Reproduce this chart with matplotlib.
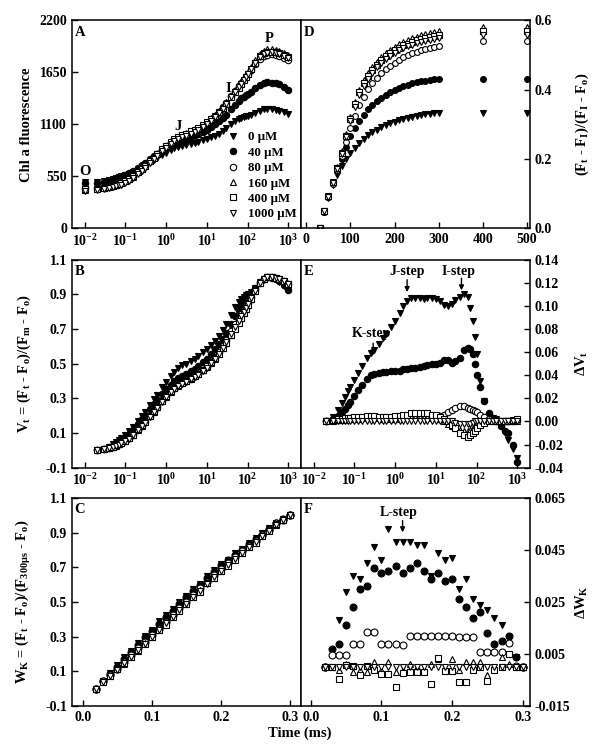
import matplotlib.pyplot as plt
from matplotlib.ticker import NullLocator

# ---- data ----
conc_labels = ['0 µM', '40 µM', '80 µM', '160 µM', '400 µM', '1000 µM']

# OJIP time points (ms)
time_ojip = [0.01, 0.02, 0.03, 0.04, 0.05, 0.06, 0.07, 0.08, 0.1, 0.12, 0.15, 0.2, 0.25, 0.3,
             0.4, 0.5, 0.6, 0.8, 1.0, 1.3, 1.6, 2.0, 2.5, 3.0, 4, 5, 6, 8, 10, 13, 16, 20, 25,
             30, 40, 50, 60, 70, 80, 90, 100, 120, 150, 200, 250, 300, 400, 500, 600, 800, 1000]

# A: Chl a fluorescence
chl_0 = [490, 495, 503, 512, 522, 531, 540, 549, 564, 579, 599, 627, 648, 666, 697, 721, 743, 775,
         799, 826, 845, 860, 873, 881, 893, 903, 913, 930, 945, 964, 981, 1002, 1029, 1057, 1098,
         1130, 1154, 1168, 1178, 1184, 1188, 1198, 1217, 1243, 1258, 1265, 1262, 1254, 1245, 1227, 1210]
chl_40 = [475, 480, 489, 498, 509, 519, 530, 541, 560, 580, 607, 643, 672, 694, 732, 762, 788, 827,
          855, 885, 906, 922, 938, 949, 967, 983, 997, 1021, 1042, 1072, 1101, 1131, 1165, 1201, 1258,
          1308, 1345, 1374, 1394, 1409, 1419, 1447, 1479, 1515, 1535, 1544, 1541, 1532, 1524, 1497, 1465]
chl_80 = [425, 430, 440, 448, 460, 470, 479, 491, 509, 529, 557, 598, 632, 660, 709, 747, 781, 832,
          869, 909, 936, 957, 977, 991, 1014, 1033, 1050, 1081, 1110, 1149, 1186, 1228, 1279, 1328, 1400,
          1456, 1502, 1540, 1572, 1602, 1628, 1676, 1733, 1793, 1824, 1837, 1840, 1834, 1826, 1805, 1785]
chl_160 = [410, 415, 424, 434, 445, 455, 467, 477, 496, 517, 548, 591, 627, 656, 708, 747, 782, 835,
           874, 917, 945, 969, 989, 1004, 1028, 1048, 1066, 1097, 1127, 1165, 1199, 1238, 1285, 1333, 1404,
           1461, 1510, 1553, 1590, 1624, 1655, 1711, 1777, 1845, 1879, 1892, 1895, 1889, 1880, 1858, 1836]
chl_400 = [415, 420, 430, 440, 450, 462, 472, 482, 503, 523, 552, 595, 630, 659, 709, 748, 782, 835,
           874, 914, 943, 965, 987, 1001, 1025, 1045, 1062, 1093, 1122, 1158, 1191, 1229, 1274, 1318, 1384,
           1439, 1486, 1528, 1565, 1600, 1632, 1689, 1753, 1819, 1853, 1867, 1870, 1864, 1856, 1835, 1815]
chl_1000 = [398, 405, 414, 422, 433, 443, 453, 463, 482, 502, 532, 574, 609, 638, 689, 728, 763, 815,
            853, 894, 921, 943, 964, 978, 1002, 1022, 1039, 1071, 1100, 1140, 1176, 1217, 1266, 1313, 1384,
            1442, 1490, 1531, 1567, 1601, 1630, 1682, 1744, 1809, 1842, 1857, 1860, 1854, 1845, 1824, 1802]

# B: relative variable fluorescence Vt (from 0.02 ms on)
vt_0 = [0.000, 0.010, 0.022, 0.035, 0.047, 0.059, 0.070, 0.089, 0.109, 0.135,
        0.171, 0.199, 0.222, 0.262, 0.294, 0.322, 0.364, 0.395, 0.430, 0.455,
        0.474, 0.491, 0.501, 0.517, 0.530, 0.543, 0.565, 0.584, 0.609, 0.631,
        0.658, 0.694, 0.730, 0.783, 0.825, 0.856, 0.874, 0.887, 0.895, 0.900,
        0.913, 0.938, 0.971, 0.991, 1.000, 0.996, 0.986, 0.974, 0.951, 0.928]
vt_40 = [0.000, 0.008, 0.017, 0.027, 0.037, 0.047, 0.057, 0.075, 0.094, 0.119,
         0.153, 0.180, 0.201, 0.237, 0.265, 0.289, 0.326, 0.352, 0.380, 0.400,
         0.415, 0.430, 0.440, 0.457, 0.472, 0.485, 0.508, 0.528, 0.556, 0.583,
         0.611, 0.643, 0.677, 0.730, 0.777, 0.812, 0.839, 0.858, 0.872, 0.882,
         0.908, 0.938, 0.972, 0.991, 0.999, 0.996, 0.988, 0.980, 0.955, 0.925]
vt_80 = [0.000, 0.007, 0.013, 0.021, 0.028, 0.035, 0.043, 0.056, 0.070, 0.090,
         0.119, 0.143, 0.163, 0.198, 0.225, 0.249, 0.285, 0.311, 0.340, 0.359,
         0.374, 0.388, 0.398, 0.414, 0.428, 0.440, 0.462, 0.482, 0.510, 0.536,
         0.566, 0.602, 0.637, 0.688, 0.728, 0.760, 0.787, 0.810, 0.831, 0.850,
         0.884, 0.924, 0.967, 0.989, 0.998, 1.000, 0.996, 0.990, 0.975, 0.961]
vt_160 = [0.000, 0.006, 0.013, 0.020, 0.027, 0.035, 0.042, 0.055, 0.069, 0.090,
          0.119, 0.143, 0.163, 0.198, 0.224, 0.248, 0.284, 0.310, 0.339, 0.358,
          0.374, 0.388, 0.398, 0.414, 0.428, 0.440, 0.461, 0.481, 0.507, 0.530,
          0.556, 0.588, 0.620, 0.668, 0.707, 0.740, 0.769, 0.794, 0.817, 0.838,
          0.876, 0.920, 0.966, 0.989, 0.998, 1.000, 0.996, 0.990, 0.975, 0.960]
vt_400 = [0.000, 0.007, 0.014, 0.021, 0.029, 0.036, 0.043, 0.057, 0.071, 0.091,
          0.121, 0.145, 0.165, 0.199, 0.226, 0.250, 0.286, 0.313, 0.341, 0.361,
          0.376, 0.391, 0.401, 0.417, 0.431, 0.443, 0.464, 0.484, 0.509, 0.532,
          0.558, 0.589, 0.619, 0.665, 0.703, 0.735, 0.764, 0.790, 0.814, 0.836,
          0.875, 0.919, 0.965, 0.988, 0.998, 1.000, 0.996, 0.990, 0.976, 0.962]
vt_1000 = [0.000, 0.006, 0.012, 0.019, 0.026, 0.033, 0.040, 0.053, 0.067, 0.087,
           0.116, 0.140, 0.160, 0.195, 0.222, 0.246, 0.282, 0.308, 0.336, 0.355,
           0.370, 0.384, 0.394, 0.410, 0.424, 0.436, 0.458, 0.478, 0.505, 0.530,
           0.558, 0.592, 0.624, 0.673, 0.713, 0.746, 0.774, 0.799, 0.822, 0.842,
           0.878, 0.920, 0.965, 0.988, 0.998, 1.000, 0.996, 0.990, 0.975, 0.960]

# E: difference kinetics dVt
dvt_0 = [0.000, 0.004, 0.010, 0.016, 0.021, 0.026, 0.030, 0.036, 0.042, 0.048,
         0.055, 0.059, 0.062, 0.067, 0.072, 0.076, 0.082, 0.087, 0.094, 0.100,
         0.104, 0.107, 0.107, 0.107, 0.106, 0.107, 0.107, 0.106, 0.104, 0.101,
         0.100, 0.102, 0.105, 0.108, 0.110, 0.108, 0.098, 0.087, 0.073, 0.058,
         0.035, 0.018, 0.006, 0.003, 0.002, -0.004, -0.010, -0.016, -0.024, -0.032]
dvt_40 = [0.000, 0.002, 0.005, 0.008, 0.011, 0.014, 0.017, 0.022, 0.027, 0.032,
          0.037, 0.040, 0.041, 0.042, 0.043, 0.043, 0.044, 0.044, 0.044, 0.045,
          0.045, 0.046, 0.046, 0.047, 0.048, 0.049, 0.050, 0.050, 0.051, 0.053,
          0.053, 0.051, 0.052, 0.055, 0.062, 0.064, 0.063, 0.058, 0.050, 0.040,
          0.030, 0.018, 0.007, 0.003, 0.001, -0.004, -0.008, -0.010, -0.020, -0.035]
dvt_80 = [0.000, 0.001, 0.001, 0.002, 0.002, 0.002, 0.003, 0.003, 0.003, 0.003,
          0.003, 0.003, 0.003, 0.003, 0.003, 0.003, 0.003, 0.003, 0.004, 0.004,
          0.004, 0.004, 0.004, 0.004, 0.004, 0.004, 0.004, 0.004, 0.005, 0.006,
          0.008, 0.010, 0.012, 0.013, 0.013, 0.012, 0.011, 0.010, 0.009, 0.008,
          0.006, 0.004, 0.002, 0.001, 0.000, 0.000, 0.000, 0.000, 0.000, 0.001]
dvt_160 = [0.000, 0.000, 0.001, 0.001, 0.001, 0.002, 0.002, 0.002, 0.002, 0.003,
           0.003, 0.003, 0.003, 0.003, 0.002, 0.002, 0.002, 0.002, 0.003, 0.003,
           0.004, 0.004, 0.004, 0.004, 0.004, 0.004, 0.003, 0.003, 0.002, 0.000,
           -0.002, -0.004, -0.005, -0.007, -0.008, -0.008, -0.007, -0.006, -0.005, -0.004,
           -0.002, 0.000, 0.001, 0.001, 0.000, 0.000, 0.000, 0.000, 0.000, 0.000]
dvt_400 = [0.000, 0.001, 0.002, 0.002, 0.003, 0.003, 0.003, 0.004, 0.004, 0.004,
           0.005, 0.005, 0.005, 0.004, 0.004, 0.004, 0.004, 0.005, 0.005, 0.006,
           0.006, 0.007, 0.007, 0.007, 0.007, 0.007, 0.006, 0.006, 0.004, 0.002,
           0.000, -0.003, -0.006, -0.010, -0.012, -0.013, -0.012, -0.010, -0.008, -0.006,
           -0.003, -0.001, 0.000, 0.000, 0.000, 0.000, 0.000, 0.000, 0.001, 0.002]
dvt_1000 = [0.000, 0.000, 0.000, 0.000, 0.000, 0.000, 0.000, 0.000, 0.000, 0.000,
            0.000, 0.000, 0.000, 0.000, 0.000, 0.000, 0.000, 0.000, 0.000, 0.000,
            0.000, 0.000, 0.000, 0.000, 0.000, 0.000, 0.000, 0.000, 0.000, 0.000,
            0.000, 0.000, -0.001, -0.002, -0.002, -0.002, -0.002, -0.001, 0.000, 0.000,
            0.000, 0.000, 0.000, 0.000, 0.000, 0.000, 0.000, 0.000, 0.000, 0.000]

# D: (Ft - FI)/(FI - Fo) on a linear time axis (ms)
time_ip = [30, 40, 50, 60, 70, 80, 90, 100, 110, 120, 130, 140, 150, 160, 170, 180, 190, 200,
           210, 220, 230, 240, 250, 260, 270, 280, 290, 300, 400, 500]
ip_0 = [0.000, 0.046, 0.088, 0.124, 0.155, 0.180, 0.200, 0.218, 0.233, 0.246, 0.258, 0.268, 0.277, 0.285, 0.292,
        0.298, 0.303, 0.308, 0.312, 0.316, 0.319, 0.322, 0.325, 0.327, 0.329, 0.331, 0.332, 0.333, 0.333, 0.333]
ip_40 = [0.000, 0.048, 0.090, 0.130, 0.165, 0.200, 0.235, 0.265, 0.290, 0.310, 0.328, 0.343, 0.356, 0.367, 0.377,
         0.385, 0.393, 0.399, 0.405, 0.410, 0.414, 0.418, 0.421, 0.424, 0.426, 0.428, 0.430, 0.431, 0.432, 0.432]
ip_80 = [0.000, 0.048, 0.090, 0.128, 0.168, 0.208, 0.250, 0.290, 0.325, 0.355, 0.380, 0.401, 0.419, 0.434, 0.447,
         0.459, 0.469, 0.478, 0.486, 0.493, 0.499, 0.505, 0.510, 0.514, 0.518, 0.521, 0.524, 0.527, 0.540, 0.540]
ip_160 = [0.000, 0.050, 0.093, 0.135, 0.178, 0.222, 0.272, 0.322, 0.365, 0.400, 0.427, 0.448, 0.466, 0.481, 0.494,
          0.505, 0.515, 0.524, 0.531, 0.538, 0.544, 0.549, 0.553, 0.557, 0.561, 0.564, 0.567, 0.569, 0.580, 0.580]
ip_400 = [0.000, 0.050, 0.092, 0.133, 0.175, 0.218, 0.267, 0.316, 0.358, 0.392, 0.418, 0.439, 0.457, 0.472, 0.485,
          0.496, 0.506, 0.514, 0.521, 0.528, 0.533, 0.538, 0.543, 0.547, 0.550, 0.553, 0.556, 0.558, 0.568, 0.568]
ip_1000 = [0.000, 0.049, 0.090, 0.130, 0.172, 0.213, 0.262, 0.310, 0.350, 0.384, 0.410, 0.431, 0.449, 0.464, 0.477,
           0.488, 0.498, 0.506, 0.513, 0.519, 0.525, 0.530, 0.534, 0.538, 0.541, 0.544, 0.547, 0.549, 0.558, 0.558]

# C / F: O-K phase (0.02 - 0.3 ms)
time_ok = [0.02, 0.03, 0.04, 0.05, 0.06, 0.07, 0.08, 0.09, 0.10, 0.11, 0.12, 0.13, 0.14, 0.15, 0.16,
           0.17, 0.18, 0.19, 0.20, 0.21, 0.22, 0.23, 0.24, 0.25, 0.26, 0.27, 0.28, 0.29, 0.30]
wk_0 = [0.000, 0.044, 0.093, 0.139, 0.181, 0.217, 0.261, 0.305, 0.339, 0.391, 0.424, 0.462, 0.500, 0.537, 0.575,
        0.601, 0.648, 0.683, 0.720, 0.744, 0.782, 0.808, 0.839, 0.870, 0.899, 0.928, 0.955, 0.976, 1.000]
wk_40 = [0.000, 0.045, 0.084, 0.126, 0.169, 0.213, 0.252, 0.297, 0.334, 0.375, 0.415, 0.450, 0.490, 0.530, 0.565,
         0.600, 0.640, 0.675, 0.712, 0.740, 0.771, 0.801, 0.836, 0.861, 0.889, 0.922, 0.956, 0.976, 1.000]
wk_80 = [0.000, 0.043, 0.080, 0.115, 0.155, 0.192, 0.234, 0.272, 0.307, 0.347, 0.385, 0.423, 0.464, 0.502, 0.540,
         0.578, 0.616, 0.654, 0.690, 0.726, 0.760, 0.794, 0.821, 0.854, 0.886, 0.918, 0.953, 0.973, 1.000]
wk_160 = [0.000, 0.038, 0.074, 0.111, 0.144, 0.182, 0.219, 0.261, 0.297, 0.340, 0.374, 0.413, 0.453, 0.490, 0.527,
          0.567, 0.607, 0.641, 0.681, 0.713, 0.750, 0.784, 0.817, 0.845, 0.880, 0.916, 0.945, 0.972, 1.000]
wk_400 = [0.000, 0.038, 0.071, 0.111, 0.147, 0.180, 0.222, 0.258, 0.296, 0.336, 0.369, 0.412, 0.450, 0.488, 0.526,
          0.560, 0.608, 0.641, 0.677, 0.708, 0.742, 0.781, 0.815, 0.843, 0.879, 0.912, 0.949, 0.972, 1.000]
wk_1000 = [0.000, 0.038, 0.075, 0.110, 0.146, 0.183, 0.221, 0.259, 0.298, 0.338, 0.376, 0.414, 0.452, 0.490, 0.528,
           0.566, 0.604, 0.642, 0.678, 0.714, 0.748, 0.782, 0.815, 0.848, 0.880, 0.912, 0.944, 0.972, 1.000]

dwk_0 = [0.000, 0.006, 0.018, 0.029, 0.035, 0.034, 0.040, 0.046, 0.041, 0.053, 0.048, 0.048, 0.048, 0.047, 0.047,
         0.035, 0.044, 0.041, 0.042, 0.030, 0.034, 0.026, 0.024, 0.022, 0.019, 0.016, 0.011, 0.004, 0.000]
dwk_40 = [0.000, 0.007, 0.009, 0.016, 0.023, 0.030, 0.031, 0.038, 0.036, 0.037, 0.039, 0.036, 0.038, 0.040, 0.037,
          0.034, 0.036, 0.033, 0.034, 0.026, 0.023, 0.019, 0.021, 0.013, 0.009, 0.010, 0.012, 0.004, 0.000]
dwk_80 = [0.000, 0.0047, 0.0047, 0.0046, 0.009, 0.009, 0.0134, 0.0134, 0.0088, 0.0087, 0.0087, 0.0085, 0.012, 0.0121,
          0.012, 0.0119, 0.0119, 0.0118, 0.0118, 0.0117, 0.0117, 0.0116, 0.0057, 0.0057, 0.0057, 0.0058, 0.0094,
          0.0005, 0.000]
dwk_160 = [0.000, 0.000, -0.001, 0.001, -0.002, -0.001, -0.002, 0.002, -0.001, 0.002, -0.002, -0.001, 0.001, 0.000,
           -0.001, 0.001, 0.003, -0.001, 0.003, -0.001, 0.002, 0.002, 0.002, -0.003, 0.000, 0.004, 0.001, 0.000, 0.000]
dwk_400 = [0.000, 0.000, -0.0045, 0.0007, 0.0005, -0.003, 0.0005, -0.001, -0.0025, -0.0025, -0.0075, -0.0022,
           -0.002, -0.002, -0.002, -0.0065, 0.0035, -0.0015, -0.0015, -0.0058, -0.0057, -0.001, 0.000, -0.0052,
           -0.001, 0.000, 0.005, 0.000, 0.000]
dwk_1000 = [0.000, 0.000, 0.000, 0.000, 0.000, 0.000, 0.000, 0.000, 0.000, 0.000, 0.000, 0.000, 0.000, 0.000,
            0.000, 0.000, 0.000, 0.000, 0.000, 0.000, 0.000, 0.000, 0.000, 0.000, 0.000, 0.000, 0.000, 0.000, 0.000]

# ---- style ----
plt.rcParams['font.family'] = ['Liberation Serif', 'DejaVu Serif']
plt.rcParams['font.weight'] = 'bold'
plt.rcParams['axes.labelweight'] = 'bold'
plt.rcParams['mathtext.fontset'] = 'custom'
plt.rcParams['mathtext.rm'] = 'Liberation Serif:bold'
plt.rcParams['mathtext.it'] = 'Liberation Serif:bold'
plt.rcParams['mathtext.bf'] = 'Liberation Serif:bold'
plt.rcParams['mathtext.default'] = 'rm'
plt.rcParams['axes.unicode_minus'] = False
plt.rcParams['font.size'] = 10

markers = ['v', 'o', 'o', '^', 's', 'v']
faces = ['black', 'black', 'white', 'white', 'white', 'white']

fig = plt.figure(figsize=(6, 7.55), dpi=100)
lx, rx, w = 0.12, 0.5017, 0.3809
bottoms = [0.6976, 0.3805, 0.0649]
h = 0.2755
axA = fig.add_axes([lx, bottoms[0], w, h])
axD = fig.add_axes([rx, bottoms[0], w, h])
axB = fig.add_axes([lx, bottoms[1], w, h])
axE = fig.add_axes([rx, bottoms[1], w, h])
axC = fig.add_axes([lx, bottoms[2], w, h])
axF = fig.add_axes([rx, bottoms[2], w, h])


def draw(ax, x, series, ms=4.6, labels=None):
    for i, y in enumerate(series):
        ax.plot(x, y, ls='none', marker=markers[i], mfc=faces[i], mec='black',
                ms=ms, mew=0.8, label=None if labels is None else labels[i])


def style(ax, right=False):
    for s in ax.spines.values():
        s.set_linewidth(1.1)
    ax.tick_params(direction='in', length=4, width=1, labelsize=10, top=False,
                   left=not right, labelleft=not right, right=right, labelright=right)
    if right:
        ax.yaxis.set_label_position('right')
        ax.yaxis.set_label_coords(1.195, 0.5)
    else:
        ax.yaxis.set_label_coords(-0.17, 0.5)


log_ticks = [1e-2, 1e-1, 1e0, 1e1, 1e2, 1e3]
log_labels = ['10$^{-2}$', '10$^{-1}$', '10$^{0}$', '10$^{1}$', '10$^{2}$', '10$^{3}$']


def log_axis(ax):
    ax.set_xscale('log')
    ax.set_xlim(0.0049, 2000)
    ax.set_xticks(log_ticks, log_labels)
    ax.xaxis.set_minor_locator(NullLocator())


def letter(ax, s):
    ax.text(0.012, 0.975, s, transform=ax.transAxes, ha='left', va='top', fontsize=10.5)


# A
draw(axA, time_ojip, [chl_0, chl_40, chl_80, chl_160, chl_400, chl_1000], labels=conc_labels)
log_axis(axA)
axA.set_ylim(0, 2200)
axA.set_yticks([0, 550, 1100, 1650, 2200])
axA.set_ylabel('Chl a fluorescence', fontsize=10.5)
style(axA)
letter(axA, 'A')
for s, tx, ty in [('O', 0.0102, 600), ('J', 1.97, 1077), ('I', 33, 1484), ('P', 347, 2003)]:
    axA.text(tx, ty, s, ha='center', va='center', fontsize=10.5)
axA.legend(loc='lower right', bbox_to_anchor=(1.025, -0.005), frameon=False, fontsize=9.3,
           handlelength=1.0, handletextpad=0.7, labelspacing=0.26, borderpad=0.2)

# D
draw(axD, time_ip, [ip_0, ip_40, ip_80, ip_160, ip_400, ip_1000], ms=4.2)
axD.set_xlim(-12, 506)
axD.set_xticks([0, 100, 200, 300, 400, 500])
axD.set_ylim(0, 0.6)
axD.set_yticks([0.0, 0.2, 0.4, 0.6], ['0.0', '0.2', '0.4', '0.6'])
axD.set_ylabel('(F$_t$ - F$_I$)/(F$_I$ - F$_o$)', fontsize=10.5)
style(axD, right=True)
letter(axD, 'D')

# B
draw(axB, time_ojip[1:], [vt_0, vt_40, vt_80, vt_160, vt_400, vt_1000])
log_axis(axB)
axB.set_ylim(-0.1, 1.1)
axB.set_yticks([-0.1, 0.1, 0.3, 0.5, 0.7, 0.9, 1.1])
axB.set_ylabel('V$_t$ = (F$_t$ - F$_o$)/(F$_m$ - F$_o$)', fontsize=10.5)
style(axB)
letter(axB, 'B')

# E
draw(axE, time_ojip[1:], [dvt_0, dvt_40, dvt_80, dvt_160, dvt_400, dvt_1000])
log_axis(axE)
axE.set_ylim(-0.04, 0.14)
axE.set_yticks([-0.04, -0.02, 0.0, 0.02, 0.04, 0.06, 0.08, 0.10, 0.12, 0.14],
               ['-0.04', '-0.02', '0.00', '0.02', '0.04', '0.06', '0.08', '0.10', '0.12', '0.14'])
axE.set_ylabel('ΔV$_t$', fontsize=10.5)
style(axE, right=True)
letter(axE, 'E')
for s, tx, ty in [('K-step', 0.27, 0.076), ('J-step', 1.97, 0.130), ('I-step', 36, 0.130)]:
    axE.text(tx, ty, s, ha='center', va='center', fontsize=10)
for ax_t, ay0, ay1 in [(0.29, 0.0677, 0.0573), (1.97, 0.1227, 0.1120), (42.6, 0.1240, 0.1135)]:
    axE.annotate('', xy=(ax_t, ay1), xytext=(ax_t, ay0),
                 arrowprops=dict(arrowstyle='-|>', color='black', lw=1, mutation_scale=7,
                                 shrinkA=0, shrinkB=0))

# C
draw(axC, time_ok, [wk_0, wk_40, wk_80, wk_160, wk_400, wk_1000], ms=5.0)
axC.set_xlim(-0.0154, 0.315)
axC.set_xticks([0.0, 0.1, 0.2, 0.3])
axC.set_ylim(-0.1, 1.1)
axC.set_yticks([-0.1, 0.1, 0.3, 0.5, 0.7, 0.9, 1.1])
axC.set_ylabel('W$_K$ = (F$_t$ - F$_o$)/(F$_{300µs}$ - F$_o$)', fontsize=10.5)
style(axC)
letter(axC, 'C')

# F
draw(axF, time_ok, [dwk_0, dwk_40, dwk_80, dwk_160, dwk_400, dwk_1000], ms=5.0)
axF.set_xlim(-0.0137, 0.3096)
axF.set_xticks([0.0, 0.1, 0.2, 0.3])
axF.set_ylim(-0.015, 0.065)
axF.set_yticks([-0.015, 0.005, 0.025, 0.045, 0.065])
axF.set_ylabel('ΔW$_K$', fontsize=10.5)
style(axF, right=True)
letter(axF, 'F')
axF.text(0.124, 0.0596, 'L-step', ha='center', va='center', fontsize=10)
axF.annotate('', xy=(0.130, 0.0518), xytext=(0.130, 0.0563),
             arrowprops=dict(arrowstyle='-|>', color='black', lw=1, mutation_scale=7,
                             shrinkA=0, shrinkB=0))

fig.text(0.5, 0.029, 'Time (ms)', ha='center', va='center', fontsize=10.5)

fig.savefig('out.png', dpi=100)
